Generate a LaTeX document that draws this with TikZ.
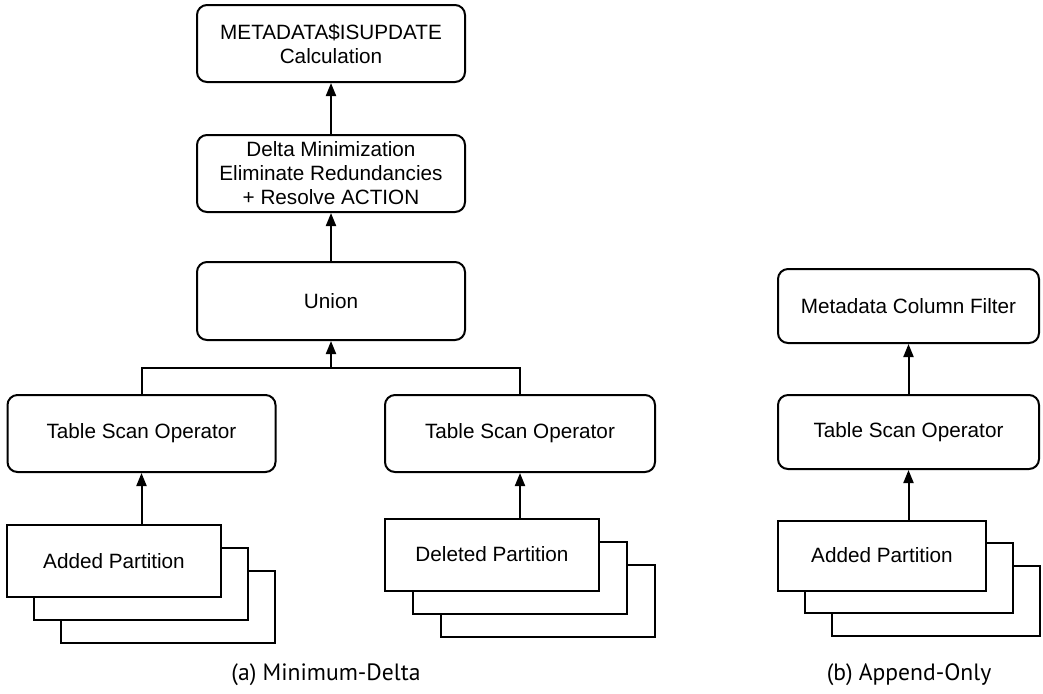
\documentclass[tikz,border=0pt]{standalone}
\usepackage{fontspec}
\setmainfont{Liberation Sans}
\newfontfamily\capfont{PT Sans}
\usetikzlibrary{arrows.meta, positioning, calc}

\begin{document}
\begin{tikzpicture}[
    x=0.5pt, y=-0.5pt,
    op/.style={rectangle, draw, rounded corners=5pt, line width=1pt, align=center,
        fill=white, text=black, font=\fontsize{10.35}{12}\selectfont,
        minimum width = 134pt, minimum height = 38.5pt, inner sep=2pt},
    part/.style={rectangle, draw, line width=1pt, fill=white, text=black,
        font=\fontsize{10.35}{12}\selectfont,
        minimum width = 107pt, minimum height = 36pt, inner sep=2pt},
    link/.style={-{Triangle[length=6.5pt, width=5pt]}, line width=1pt},
    caption/.style={font=\capfont\fontsize{11.8}{13}\selectfont}
]

    \useasboundingbox (0,0) rectangle (1043,693);

    % (a) Minimum-Delta ------------------------------------------

    \node[op] (meta) at (331,43.5) {METADATA\$ISUPDATE\\Calculation};
    \node[op] (delta) at (331,173.5) {Delta Minimization\\Eliminate Redundancies\\+ Resolve ACTION};
    \node[op, minimum height = 39pt] (union) at (331,301) {Union};
    \node[op] (tsoA) at (141.5,433.5) {Table Scan Operator};
    \node[op, minimum width = 135pt] (tsoB) at (520,433.5) {Table Scan Operator};

    \node[part] (addA3) at (168,607) {};
    \node[part] (addA2) at (141,584) {};
    \node[part] (addA1) at (114,561) {Added Partition};

    \node[part] (delB3) at (548,601) {};
    \node[part] (delB2) at (520,578) {};
    \node[part] (delB1) at (492,554.5) {Deleted Partition};

    \coordinate (join) at (331,368);

    % (b) Append-Only --------------------------------------------

    \node[op, minimum width = 130.5pt, minimum height = 37pt] (filter) at (908.5,306) {Metadata Column Filter};
    \node[op, minimum width = 130.5pt, minimum height = 37pt] (tsoC) at (908.5,432) {Table Scan Operator};

    \node[part, minimum width = 104pt, minimum height = 35pt] (addC3) at (935.5,601) {};
    \node[part, minimum width = 104pt, minimum height = 35pt] (addC2) at (909,578) {};
    \node[part, minimum width = 104pt, minimum height = 35pt] (addC1) at (882,555.5) {Added Partition};

    % Edges ------------------------------------------------------

    \draw[link] (delta) -- (meta);
    \draw[link] (union) -- (delta);
    \draw[line width=1pt] (tsoA.north) |- (join) -| (tsoB.north);
    \draw[link] (join) -- (union);
    \draw[link] (addA1.north -| tsoA.south) -- (tsoA.south);
    \draw[link] (delB1.north -| tsoB.south) -- (tsoB.south);
    \draw[link] (tsoC) -- (filter);
    \draw[link] (addC1.north -| tsoC.south) -- (tsoC.south);

    % Captions ---------------------------------------------------

    \node[caption] (capA) at (326,675) {(a) Minimum-Delta};
    \node[caption] (capB) at (909,675) {(b) Append-Only};

\end{tikzpicture}
\end{document}
